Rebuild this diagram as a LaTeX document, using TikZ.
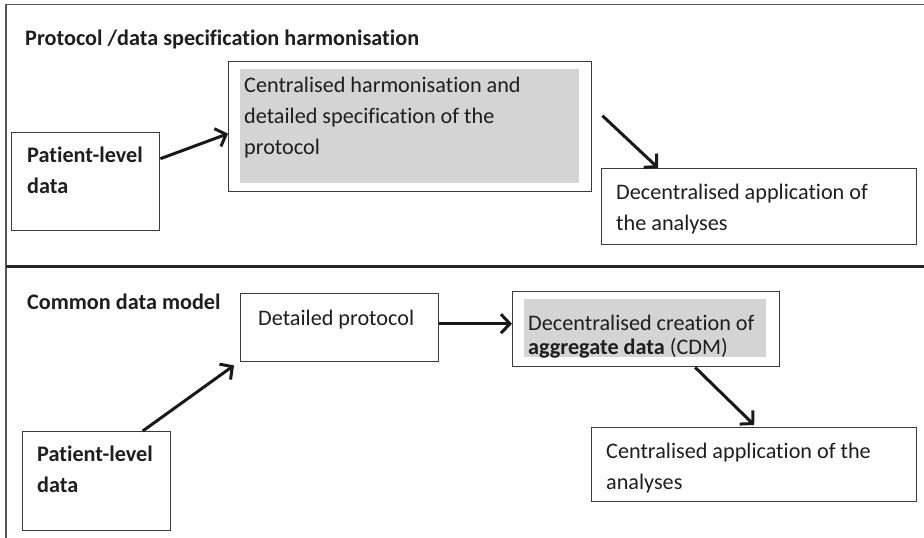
\documentclass[tikz,border=0pt]{standalone}
\usepackage{fontspec}
\setmainfont{Carlito}[Ligatures=NoCommon]
\definecolor{frameline}{RGB}{85,85,85}
\definecolor{boxline}{RGB}{60,60,60}
\definecolor{shade}{RGB}{212,212,212}
\definecolor{ink}{RGB}{30,30,30}
\usepackage{tikz}
\usepackage{xcolor}
\usetikzlibrary{arrows.meta,positioning}
\newcommand{\heading}[1]{\textbf{#1}}

\tikzset{
  box/.style={draw=boxline, line width=1.4pt, anchor=north west, inner sep=0pt},
  greyfill/.style={fill=shade, anchor=north west, inner sep=0pt},
  boxtext/.style={anchor=north west, align=left, inner sep=0pt, text=ink,
    font=\fontsize{22.2}{31}\selectfont},
  flow/.style={draw=black!90, line width=3pt,
    -{Straight Barb[length=9pt,width=19pt,line width=3pt]}}
}

\begin{document}
\begin{tikzpicture}[x=1pt, y=-1pt]
                \useasboundingbox (0,0) rectangle (924,538);
                % outer frame and divider
                \draw[frameline, line width=1.8pt] (924,4.5) -- (6,4.5) -- (6,538);
                \draw[black!85, line width=2.6pt] (6,266.5) -- (924,266.5);

                % protocol / data specification harmonisation
                \node[boxtext] (title1) at (25,30) {\heading{Protocol /data specification harmonisation}};
                \node[box, minimum width=148pt, minimum height=98pt] (pld1) at (11,132) {};
                \node[boxtext] (pld1-txt) at (27,147) {\heading{Patient-level}\\\heading{data}};
                \node[box, minimum width=363pt, minimum height=130pt] (harm) at (228,61) {};
                \node[greyfill, minimum width=339pt, minimum height=114pt] (harm-in) at (240,69) {};
                \node[boxtext] (harm-txt) at (244,77) {Centralised harmonisation and\\detailed specification of the\\protocol};
                \node[box, minimum width=315pt, minimum height=76pt] (decapp) at (601,168) {};
                \node[boxtext] (decapp-txt) at (616,184) {Decentralised application of\\the analyses};

                \draw[flow] ([yshift=23pt]pld1.east) -- ([yshift=-7pt]harm.west);
                \draw[flow] ([xshift=10pt,yshift=11pt]harm.east) -- ([xshift=-101pt]decapp.north);

                % common data model
                \node[boxtext] (title2) at (27,294) {\heading{Common data model}};
                \node[box, minimum width=198pt, minimum height=68pt] (detprot) at (240,293) {};
                \node[boxtext] (detprot-txt) at (258,310) {Detailed protocol};
                \node[box, minimum width=267pt, minimum height=75pt] (create) at (512,291) {};
                \node[greyfill, minimum width=242pt, minimum height=58pt] (create-in) at (524,299) {};
                \node[boxtext, font=\fontsize{22.2}{24}\selectfont] (create-txt) at (528,315) {Decentralised creation of\\\heading{aggregate data} (CDM)};
                \node[box, minimum width=325pt, minimum height=74pt] (centapp) at (591,427) {};
                \node[boxtext] (centapp-txt) at (606,443) {Centralised application of the\\analyses};
                \node[box, minimum width=148pt, minimum height=99pt] (pld2) at (22,431) {};
                \node[boxtext] (pld2-txt) at (37,446) {\heading{Patient-level}\\\heading{data}};

                \draw[flow] ([xshift=46pt]pld2.north) -- ([xshift=-6pt,yshift=-3pt]detprot.south west);
                \draw[flow] ([yshift=4pt]detprot.east) -- ([yshift=4pt]detprot.east -| create.west);
                \draw[flow] ([xshift=49pt]create.south) -- ([yshift=2pt]centapp.north);
            \end{tikzpicture}
\end{document}
